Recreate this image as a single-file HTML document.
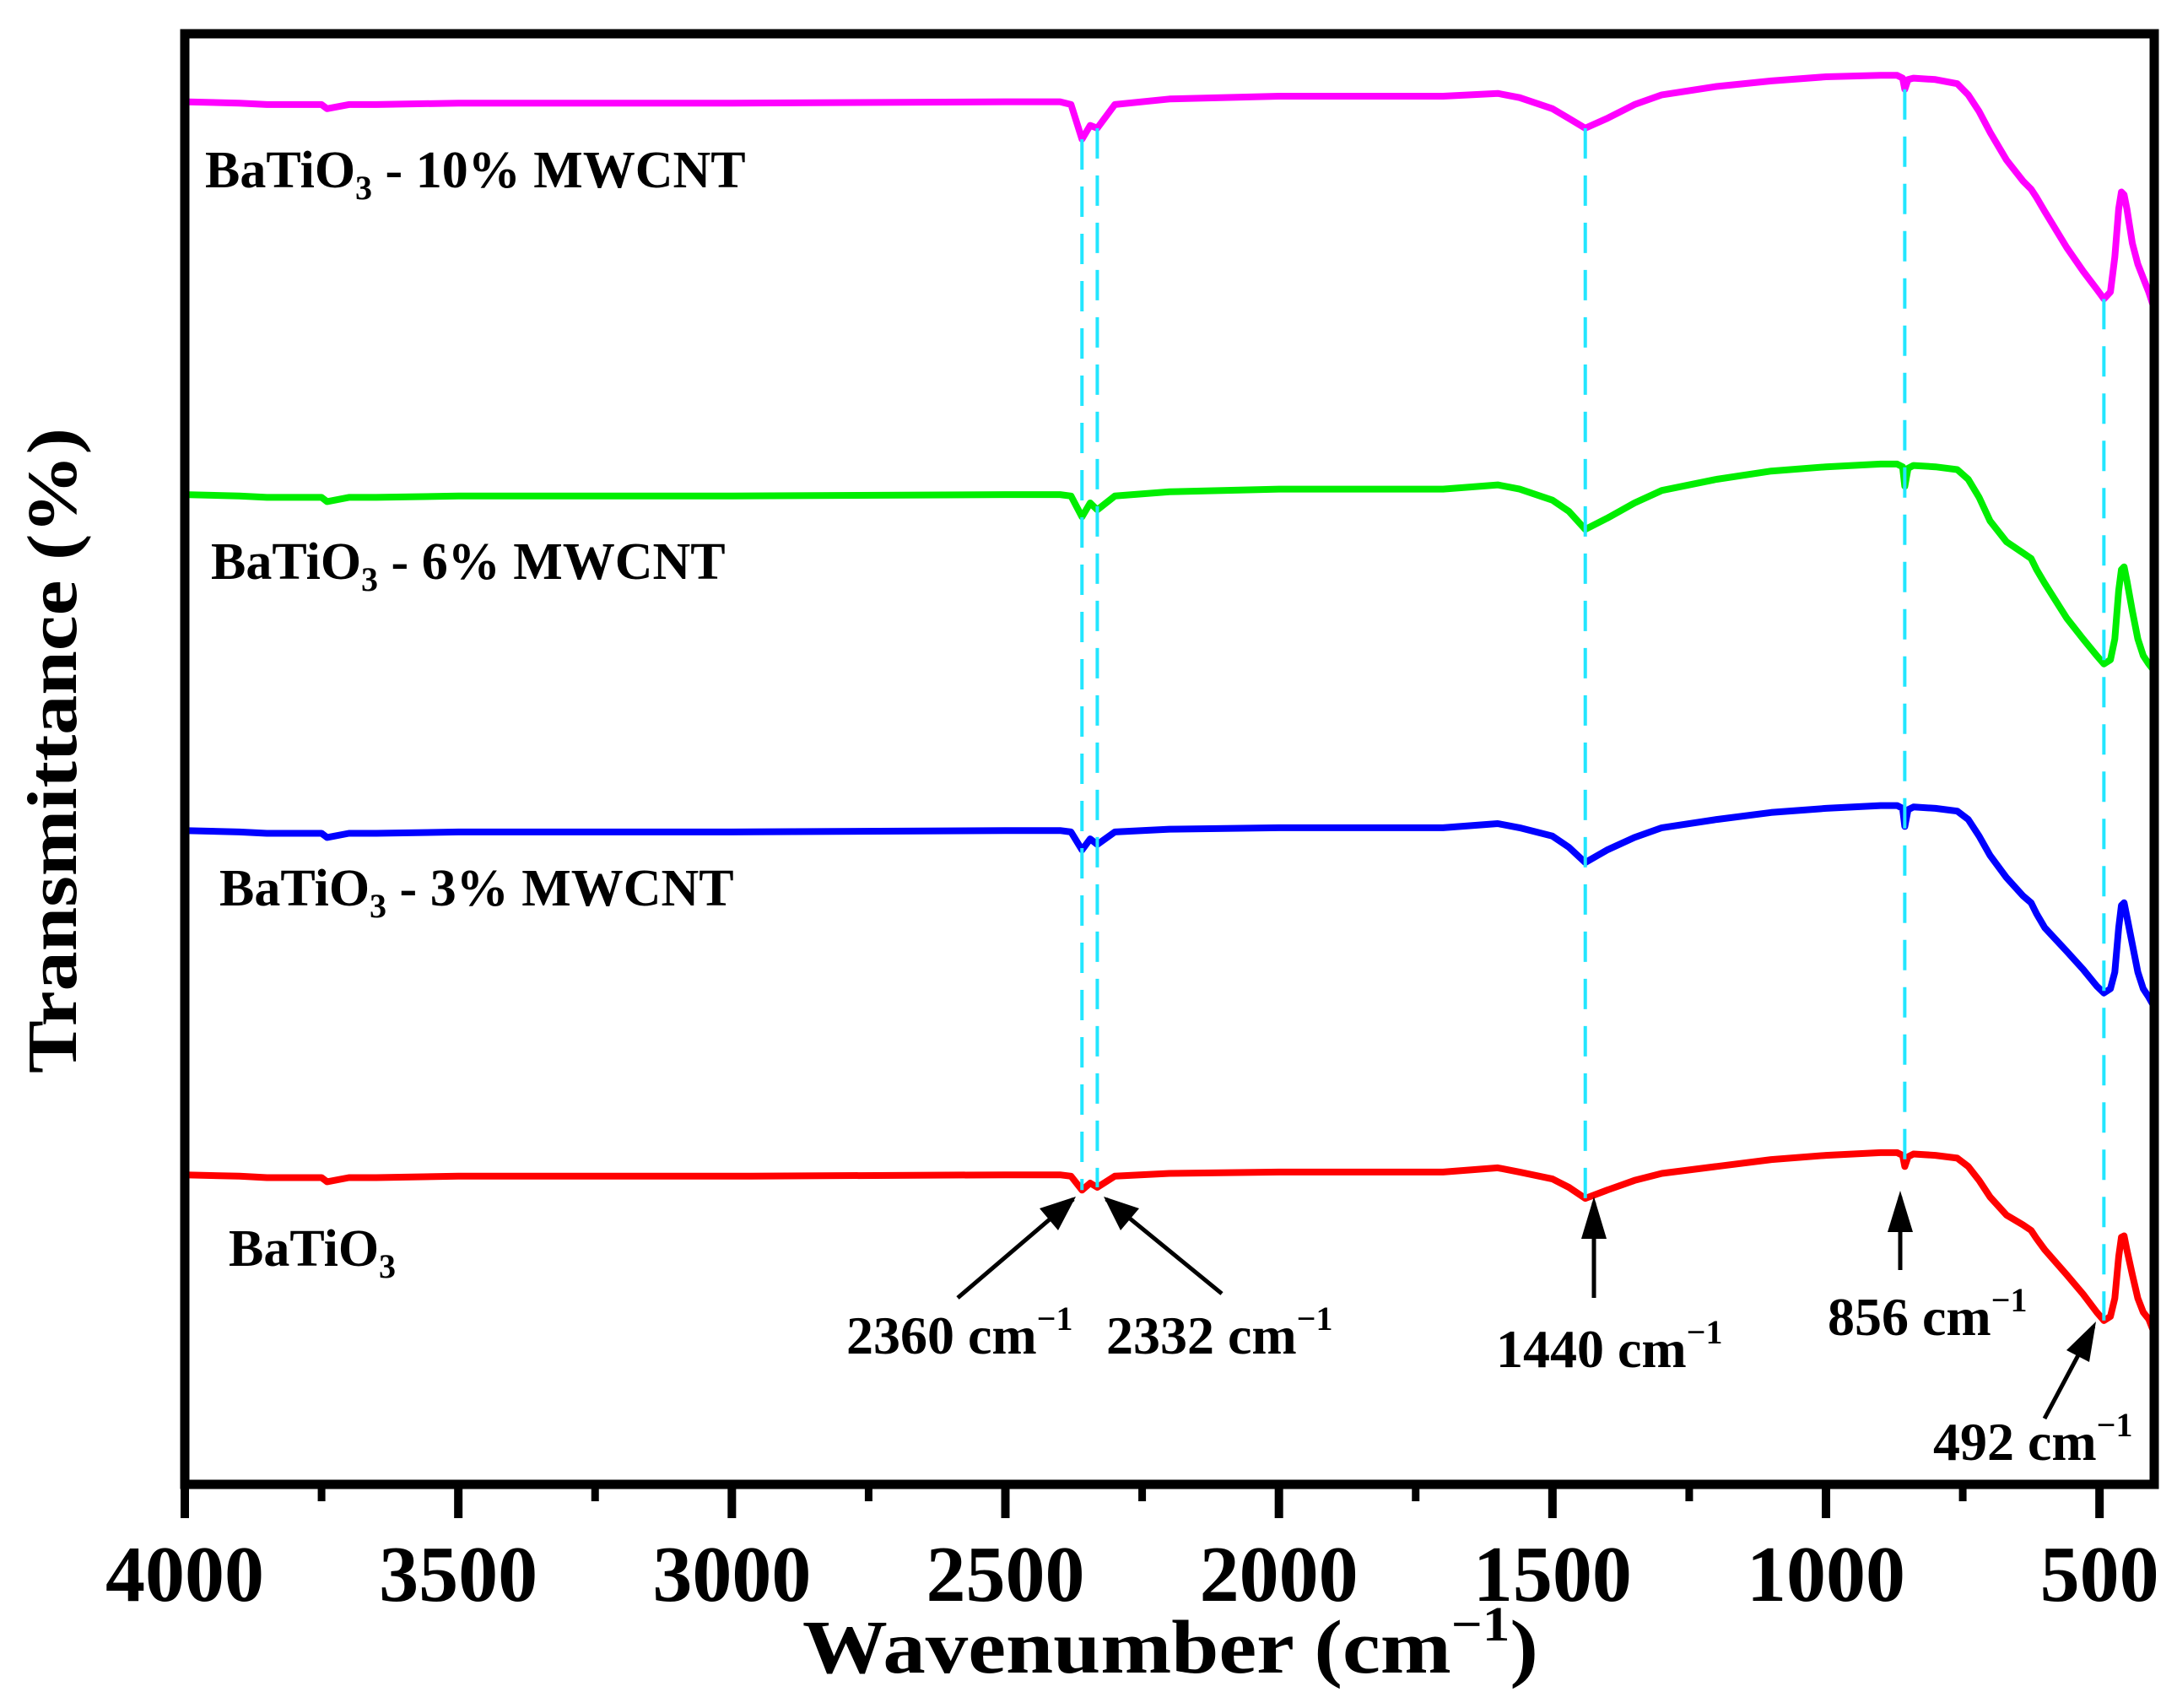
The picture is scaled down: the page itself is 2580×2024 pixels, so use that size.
<!DOCTYPE html>
<html><head><meta charset="utf-8">
<style>
html,body{margin:0;padding:0;background:#fff;}
svg{display:block;font-family:"Liberation Serif",serif;font-weight:bold;}
</style></head>
<body>
<svg id="chart" width="2580" height="2024" viewBox="0 0 2580 2024" xmlns="http://www.w3.org/2000/svg">
<g id="plot"></g>
<g id="axes"></g>
<g id="ann"></g>
</svg>
<script>
const wavenumbers=[4000,3900,3850,3750,3740,3700,3650,3500,3000,2500,2400,2380,2360,2345,2332,2300,2200,2000,1800,1700,1600,1560,1500,1470,1440,1400,1350,1300,1200,1100,1000,900,870,860,856,850,840,800,760,740,720,700,670,640,625,615,600,560,530,505,492,480,472,465,460,455,450,440,430,420,410,400];
const redY=[846,847,848,848,851,848,848,847,847,846,846,847,857,852,855,847,845,844,844,844,841,844,849,855,863,857,850,845,840,835,832,830,830,832,840,833,831,832,834,840,850,862,875,882,886,892,900,918,932,945,951,948,935,905,891,890,900,918,935,945,950,960];
const blueY=[598,599,600,600,603,600,600,599,599,598,598,599,612,604,608,599,597,596,596,596,593,596,602,610,621,612,603,596,590,585,582,580,580,582,595,583,581,582,584,590,602,616,632,645,650,658,668,685,698,710,715,712,700,668,652,650,660,680,700,712,718,725];
const greenY=[356,357,358,358,361,358,358,357,357,356,356,357,372,362,367,357,354,352,352,352,349,352,360,368,381,373,362,353,345,339,336,334,334,336,350,337,335,336,338,345,358,375,390,398,402,410,420,445,460,472,478,475,460,425,410,408,418,440,460,472,478,483];
const magentaY=[73,74,75,75,78,75,75,74,74,73,73,75,100,90,92,75,71,69,69,69,67,70,78,85,92,85,75,68,62,58,55,54,54,56,64,57,56,57,60,68,80,95,115,130,136,142,152,178,195,208,215,210,185,150,138,140,150,175,190,200,210,222];
const seriesNames=["BaTiO3 - 10% MWCNT","BaTiO3 - 6% MWCNT","BaTiO3 - 3% MWCNT","BaTiO3"];
const xTicks=[4000,3500,3000,2500,2000,1500,1000,500];
const xMinorTicks=[3750,3250,2750,2250,1750,1250,750];
const peakMarks=[2360,2332,1440,856,492];
const peakLabels=["2360","2332","1440","856","492"];

function toT(arr){return arr.map(v=>106.9-v/10);}
const L=219,R=2553,T=40,B=1759;
const X0=4000,X1=400,Y0=0,Y1=104.5;
function xs(w){return L+(X0-w)/(X0-X1)*(R-L);}
function ys(v){return B-(v-Y0)/(Y1-Y0)*(B-T);}
const NS="http://www.w3.org/2000/svg";
function mk(tag,parent,attrs){const e=document.createElementNS(NS,tag);for(const k in attrs)e.setAttribute(k,attrs[k]);parent.appendChild(e);return e;}
const plot=document.getElementById('plot'),axes=document.getElementById('axes'),ann=document.getElementById('ann');

const series=[[magentaY,"#ff00ff","magenta-10pct-curve"],[greenY,"#00ee00","green-6pct-curve"],[blueY,"#0000ff","blue-3pct-curve"],[redY,"#ff0000","red-batio3-curve"]];
const vals={};
series.forEach(s=>{
  const t=toT(s[0]);vals[s[2]]=t;
  const d=wavenumbers.map((w,i)=>(i?'L':'M')+xs(w).toFixed(1)+' '+ys(t[i]).toFixed(1)).join(' ');
  const p=mk('path',plot,{d:d,fill:'none',stroke:s[1],'stroke-width':8,'stroke-linejoin':'round'});
  
  
});
const mT=vals["magenta-10pct-curve"],rT=vals["red-batio3-curve"];
peakMarks.forEach(pk=>{
  const i=wavenumbers.indexOf(pk);
  const ln=mk('line',plot,{x1:xs(pk),x2:xs(pk),y1:ys(mT[i]),y2:ys(rT[i]),stroke:'#22e6ff','stroke-width':4,'stroke-dasharray':'36 20'});
  
  
});
const fr=mk('rect',axes,{x:L,y:T,width:R-L,height:B-T,fill:'none',stroke:'#000','stroke-width':11});


xTicks.forEach(t=>{
  const tk=mk('line',axes,{x1:xs(t),x2:xs(t),y1:B,y2:B+40,stroke:'#000','stroke-width':10});
  
  
  const tx=mk('text',axes,{x:xs(t),y:1897,'font-size':94,'text-anchor':'middle'});
  tx.textContent=t;
  
  
});
xMinorTicks.forEach(t=>{
  const tk=mk('line',axes,{x1:xs(t),x2:xs(t),y1:B,y2:B+20,stroke:'#000','stroke-width':9});
  
  
});
</script>
<svg style="position:absolute;left:0;top:0" width="2580" height="2024" font-family="Liberation Serif, serif" font-weight="bold">
<text x="951" y="1982" font-size="90" textLength="872" lengthAdjust="spacingAndGlyphs">Wavenumber (cm<tspan font-size="58" dy="-38">−1</tspan><tspan dy="38">)</tspan></text>
<text transform="translate(90,1272) rotate(-90)" x="0" y="0" font-size="84" textLength="765" lengthAdjust="spacingAndGlyphs">Transmittance (%)</text>
<text x="243" y="222" font-size="62">BaTiO<tspan font-size="40" dy="14">3</tspan><tspan dy="-14"> - 10% MWCNT</tspan></text>
<text x="250" y="686" font-size="62">BaTiO<tspan font-size="40" dy="14">3</tspan><tspan dy="-14"> - 6% MWCNT</tspan></text>
<text x="260" y="1073" font-size="62">BaTiO<tspan font-size="40" dy="14">3</tspan><tspan dy="-14"> - 3% MWCNT</tspan></text>
<text x="271" y="1500" font-size="62">BaTiO<tspan font-size="40" dy="14">3</tspan></text>
<g font-size="64">
<text x="1003" y="1604">2360 cm<tspan font-size="40" dy="-28">−1</tspan></text>
<text x="1311" y="1604">2332 cm<tspan font-size="40" dy="-28">−1</tspan></text>
<text x="1773" y="1620">1440 cm<tspan font-size="40" dy="-28">−1</tspan></text>
<text x="2166" y="1582">856 cm<tspan font-size="40" dy="-28">−1</tspan></text>
<text x="2291" y="1730">492 cm<tspan font-size="40" dy="-28">−1</tspan></text>
</g>
<g stroke="#000" stroke-width="5">
<line x1="1135" y1="1538" x2="1272" y2="1421"/>
<path d="M1275,1418 L1232,1432 L1254,1458 z" fill="#000" stroke="none"/>
<line x1="1448" y1="1533" x2="1311" y2="1421"/>
<path d="M1308,1418 L1328,1458 L1350,1432 z" fill="#000" stroke="none"/>
<line x1="1889" y1="1538" x2="1889" y2="1425"/>
<path d="M1889,1418 L1874,1468 L1904,1468 z" fill="#000" stroke="none"/>
<line x1="2252" y1="1505" x2="2252" y2="1418"/>
<path d="M2252,1411 L2237,1460 L2267,1460 z" fill="#000" stroke="none"/>
<line x1="2423" y1="1681" x2="2481" y2="1572"/>
<path d="M2484,1566 L2449,1600 L2476,1614 z" fill="#000" stroke="none"/>
</g>
</svg>
</body></html>
